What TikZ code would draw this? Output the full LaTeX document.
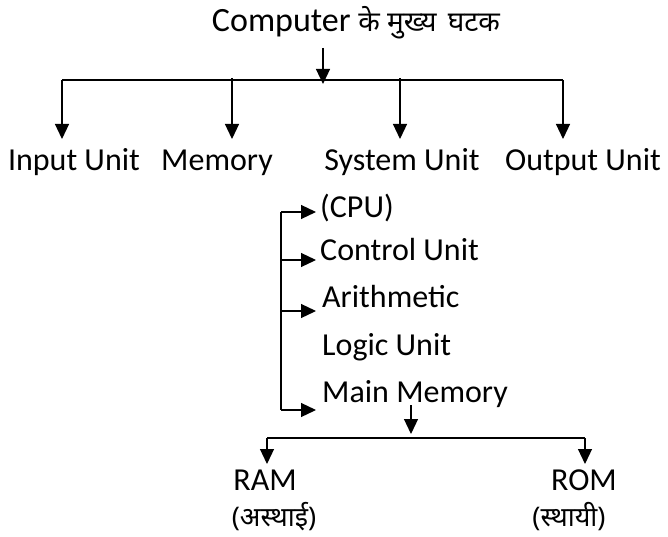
\documentclass[tikz,border=0pt]{standalone}
\usepackage{fontspec}
\setmainfont{Carlito}
\newfontfamily\deva[Script=Devanagari]{Noto Sans}
\usetikzlibrary{arrows.meta}
\begin{document}
\begin{tikzpicture}[x=1pt,y=-1pt,
  lbl/.style={font=\fontsize{32}{38}\selectfont, inner sep=0pt, anchor=base},
  hin/.style={font=\fontsize{27}{32}\selectfont\deva, inner sep=0pt, anchor=base},
  arr/.style={-{Triangle[width=14pt,length=15pt]}, line width=1.2pt},
  ln/.style={line width=1.2pt}]
\useasboundingbox (0,0) rectangle (668,537);
% title
\node[lbl, font=\fontsize{34}{40}\selectfont] (title) at (356,32) {Computer {\deva\fontsize{28}{32}\selectfont के मुख्य\hspace{4pt} घटक}};
\coordinate (t0) at (323,48);
\coordinate (hub) at (323,80);
\draw[arr] (t0) -- ([yshift=-4pt]hub);
\coordinate (hl) at (62,80);
\coordinate (hr) at (563,80);
\draw[ln] (hl) -- (hr);
% second row
\node[lbl] (in) at (74,171) {Input Unit};
\node[lbl] (mem) at (217,171) {Memory};
\node[lbl] (sys) at (402,171) {System Unit};
\node[lbl] (out) at (583,171) {Output Unit};
\coordinate (d1) at (62,80);
\coordinate (d2) at (232,78);
\coordinate (d3) at (400,78);
\coordinate (d4) at (563,80);
\coordinate (e1) at (62,139);
\coordinate (e2) at (232,139);
\coordinate (e3) at (400,139);
\coordinate (e4) at (563,139);
\draw[arr] (d1) -- (e1);
\draw[arr] (d2) -- (e2);
\draw[arr] (d3) -- (e3);
\draw[arr] (d4) -- (e4);
% CPU branch
\node[lbl, anchor=base west] (cpu) at (320,217) {(CPU)};
\node[lbl, anchor=base west] (cu) at (320,260) {Control Unit};
\node[lbl, anchor=base west] (alu) at (322,307) {Arithmetic};
\node[lbl, anchor=base west] (lu) at (322,355) {Logic Unit};
\node[lbl, anchor=base west] (mm) at (322,402) {Main Memory};
\coordinate (v0) at (281,212);
\coordinate (v1) at (281,260);
\coordinate (v2) at (281,311);
\coordinate (v3) at (281,410);
\draw[ln] (v0) -- (v3);
\draw[arr] (v0) -- (316,212);
\draw[arr] (v1) -- (316,260);
\draw[arr] (v2) -- (316,311);
\draw[arr] (v3) -- (316,410);
% Main memory branch
\coordinate (m0) at (411,405);
\coordinate (m1) at (411,434);
\draw[arr] (m0) -- (m1);
\coordinate (rl) at (267,438);
\coordinate (rr) at (585,438);
\draw[ln] (rl) -- (rr);
\node[lbl] (ram) at (265,490) {RAM};
\node[lbl] (rom) at (584,490) {ROM};
\node[hin] (ramh) at (274,526) {(अस्थाई)};
\node[hin] (romh) at (569,526) {(स्थायी)};
\draw[arr] (rl) -- (267,464);
\draw[arr] (rr) -- (585,464);
\end{tikzpicture}
\end{document}
